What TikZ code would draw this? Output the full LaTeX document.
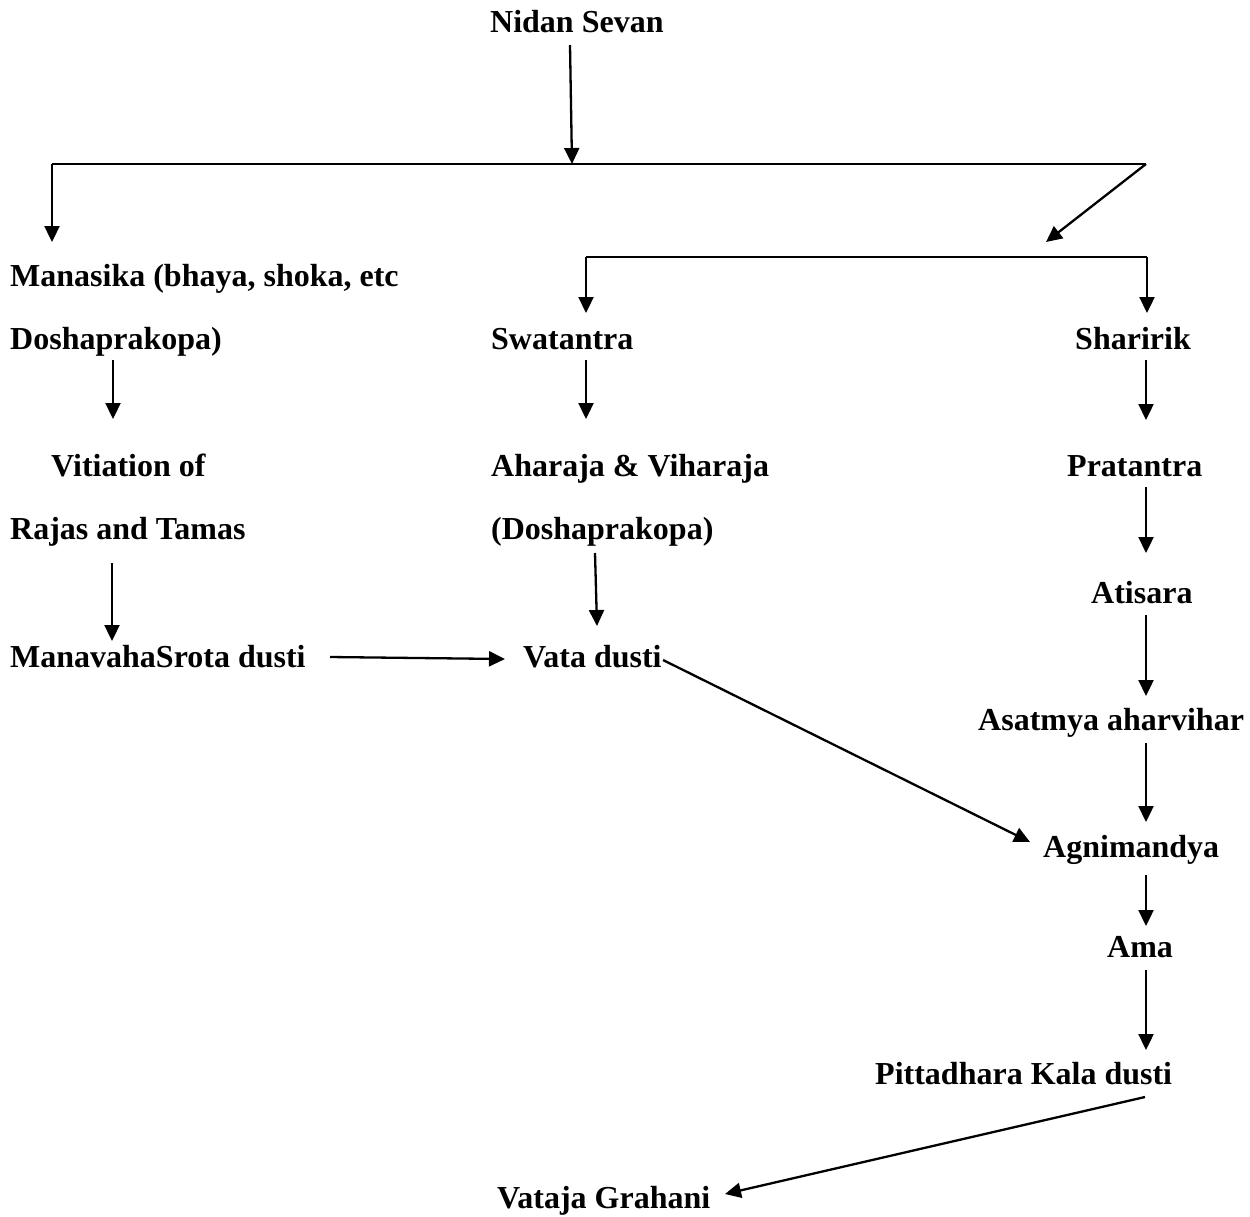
\documentclass[tikz,border=0pt]{standalone}
\usepackage{fontspec}
\setmainfont{Liberation Serif}
\usetikzlibrary{arrows.meta}
\begin{document}
\begin{tikzpicture}[x=1pt,y=-1pt,
  lbl/.style={anchor=base west,inner sep=0pt,font=\fontsize{32}{38}\selectfont\bfseries},
  arr/.style={line width=2.3pt,-{Triangle[length=16pt,width=15pt]}},
  ln/.style={line width=2.3pt}]
\useasboundingbox (0,0) rectangle (1250,1216);
% text nodes
\node[lbl] (nidan) at (490,32) {Nidan Sevan};
\node[lbl] (manas) at (10,286) {Manasika (bhaya, shoka, etc};
\node[lbl] (dosha1) at (10,349) {Doshaprakopa)};
\node[lbl] (swat) at (491,349) {Swatantra};
\node[lbl] (shar) at (1075,349) {Sharirik};
\node[lbl] (vit) at (51,476) {Vitiation of};
\node[lbl] (ahar) at (491,476) {Aharaja \& Viharaja};
\node[lbl] (prat) at (1067,476) {Pratantra};
\node[lbl] (rajas) at (10,539) {Rajas and Tamas};
\node[lbl] (dosha2) at (491,539) {(Doshaprakopa)};
\node[lbl] (atis) at (1091,603) {Atisara};
\node[lbl] (manav) at (10,667) {ManavahaSrota dusti};
\node[lbl] (vata) at (523,667) {Vata dusti};
\node[lbl] (asat) at (978,730) {Asatmya aharvihar};
\node[lbl] (agni) at (1043,857) {Agnimandya};
\node[lbl] (ama) at (1107,957) {Ama};
\node[lbl] (pitta) at (875,1084) {Pittadhara Kala dusti};
\node[lbl] (vataja) at (497,1208) {Vataja Grahani};
% junction / end coordinates
\coordinate (nA) at (570,45);
\coordinate (nB) at (572,164);
\coordinate (b1L) at (52,164);
\coordinate (b1R) at (1146,164);
\coordinate (manasT) at (52,242);
\coordinate (br2T) at (1046,242);
\coordinate (b2L) at (586,257);
\coordinate (b2R) at (1147,257);
\coordinate (swatT) at (586,313);
\coordinate (sharT) at (1147,313);
\coordinate (lA1) at (113,360); \coordinate (lA2) at (113,419);
\coordinate (lB1) at (112,563); \coordinate (lB2) at (112,641);
\coordinate (mA1) at (586,360); \coordinate (mA2) at (586,419);
\coordinate (mB1) at (595,553); \coordinate (mB2) at (597,626);
\coordinate (hA1) at (330,657); \coordinate (hA2) at (505,659);
\coordinate (dA1) at (663,660); \coordinate (dA2) at (1030,842);
\coordinate (r1a) at (1146,360); \coordinate (r1b) at (1146,420);
\coordinate (r2a) at (1146,487); \coordinate (r2b) at (1146,553);
\coordinate (r3a) at (1146,615); \coordinate (r3b) at (1146,696);
\coordinate (r4a) at (1146,743); \coordinate (r4b) at (1146,822);
\coordinate (r5a) at (1146,875); \coordinate (r5b) at (1146,926);
\coordinate (r6a) at (1146,970); \coordinate (r6b) at (1146,1050);
\coordinate (pA) at (1145,1097); \coordinate (pB) at (725,1194);
% connectors
\draw[arr] (nA) -- (nB);
\draw[ln] (b1L) -- (b1R);
\draw[arr] (b1L) -- (manasT);
\draw[arr] (b1R) -- (br2T);
\draw[ln] (b2L) -- (b2R);
\draw[arr] (b2L) -- (swatT);
\draw[arr] (b2R) -- (sharT);
\draw[arr] (lA1) -- (lA2);
\draw[arr] (lB1) -- (lB2);
\draw[arr] (mA1) -- (mA2);
\draw[arr] (mB1) -- (mB2);
\draw[arr] (hA1) -- (hA2);
\draw[arr] (dA1) -- (dA2);
\draw[arr] (r1a) -- (r1b);
\draw[arr] (r2a) -- (r2b);
\draw[arr] (r3a) -- (r3b);
\draw[arr] (r4a) -- (r4b);
\draw[arr] (r5a) -- (r5b);
\draw[arr] (r6a) -- (r6b);
\draw[arr] (pA) -- (pB);
\end{tikzpicture}
\end{document}
